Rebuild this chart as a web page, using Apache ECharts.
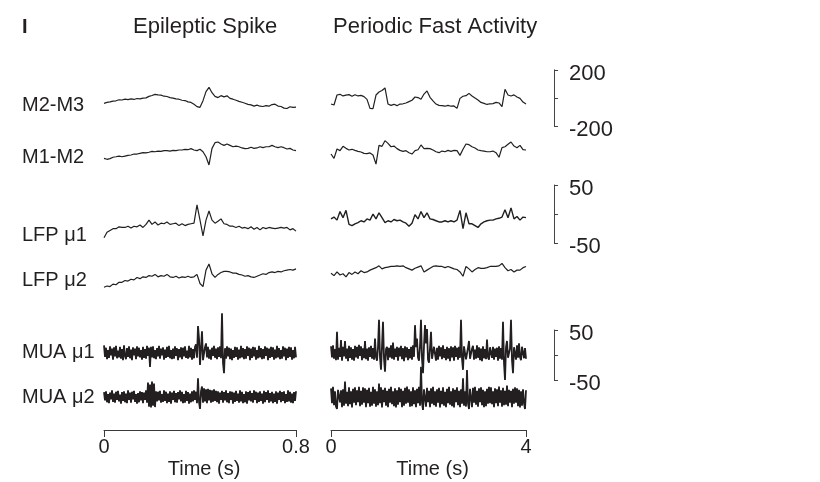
<!DOCTYPE html>
<html>
<head>
<meta charset="utf-8">
<script src="https://cdn.jsdelivr.net/npm/echarts@6/dist/echarts.min.js"></script>
<style>
  html, body { margin: 0; padding: 0; background: #ffffff; }
  #chart { width: 820px; height: 482px; }
</style>
</head>
<body>
<div id="chart"></div>
<script>
// window lengths (s) and tick labels of the two time axes
var spikeSpan = 0.8;
var fastSpan = 4;
var spikeTicks = [0, 0.8];
var fastTicks = [0, 4];

var rowNames = ['M2-M3', 'M1-M2', 'LFP μ1', 'LFP μ2', 'MUA μ1', 'MUA μ2'];

// scale bar tick labels
var eegScale = [-200, 0, 200];
var lfpScale = [-50, 0, 50];
var muaScale = [-50, 0, 50];

// --- Epileptic spike window (0 - 0.8 s), evenly sampled ---
var spikeM2M3 = [-25, -18, -14, -8, -6, 2, 0, 6, 3, 8,
  4, 11, 8, 14, 16, 27, 33, 42, 38, 36,
  28, 26, 18, 14, 8, 6, -2, -4, -14, -18,
  -32, -49, -54, -5, 62, 94, 54, 27, 18, 32,
  23, 31, 12, 6, -2, -10, -17, -24, -32, -36,
  -45, -38, -46, -48, -42, -46, -34, -31, -45, -48,
  -60, -63, -50, -55, -53];
var spikeM1M2 = [-47, -54, -49, -39, -35, -30, -35, -30, -25, -22,
  -15, -15, -10, -5, -7, -2, 5, 2, 7, 5,
  10, 10, 7, 12, 10, 15, 15, 20, 17, 25,
  15, 10, 20, 2, -35, -96, 27, 69, 74, 59,
  49, 59, 49, 39, 44, 39, 30, 25, 27, 35,
  27, 30, 39, 32, 39, 39, 49, 39, 32, 39,
  32, 22, 27, 15, 10];
var spikeLfp1 = [-21, -12, -9, -6, -6, -3, -4, -4, -2, -5,
  -2, -3, 0, -4, 1, 8, 1, 5, 0, 3,
  2, 5, 1, 2, 3, -1, 2, -1, 1, 2,
  3, 33, 8, -18, 8, 23, 8, 3, 6, 10,
  2, 1, -2, -2, -4, -2, -5, -4, -6, -3,
  -7, -4, -8, -4, -6, -4, -5, -6, -5, -4,
  -5, -4, -8, -6, -10];
var spikeLfp2 = [-20, -18, -19, -15, -16, -12, -12, -9, -10, -7,
  -8, -4, -6, -3, -4, -1, -2, 1, -3, -1,
  -2, 1, -3, -4, -2, -5, -3, -4, -2, -4,
  -3, 1, -14, -19, 8, 18, 2, -4, 1, 4,
  6, 6, 5, 3, 3, 1, 0, -2, -1, -3,
  -4, -2, 0, 2, 1, 4, 5, 4, 6, 5,
  7, 8, 9, 8, 10];
var spikeMua1 = [16, -8, 11, -13, 6, -10, 14, -5, 9, -14, 12, -7, 15, -11, 5, -9, 13, -12, 8, -15,
  16, -6, -13, 10, -8, 14, -11, 7, -15, 12, -5, 9, -13, 14, -7, 11, -9, 6, -14, 13,
  -10, 8, -12, 15, -6, 11, -29, 13, -9, 14, -11, 6, -13, 10, -7, 15, -12, 9, -5, 12,
  -14, 7, -10, 13, -8, 15, -11, 6, -13, 9, -12, 14, -6, 10, -15, 8, -9, 12, -13, 11,
  -7, 14, -10, 5, -12, 15, -9, 11, -14, 8, -11, 13, 18, -10, 56, 30, -25, 10, 45, -15,
  -15, 12, 20, -9, 13, -12, 7, -14, 11, -6, 15, -10, 9, -13, 12, -8, 14, -11, 83, -20,
  -42, 10, -12, 14, -7, 11, -13, 9, -15, 6, -10, 13, -8, 12, -14, 7, -11, 15, -9, 10,
  -13, 8, -12, 14, -6, 11, -15, 9, -10, 13, -7, 12, -14, 6, -11, 15, -9, 10, -13, 8,
  -12, 14, -6, 11, -15, 9, -10, 13, -8, 12, -14, 7, -11, 15, -9, 10, -13, 6, -12, 14,
  -7, 11, -15, 9, -10, 13, -8, 12, -14, 6, -11, 13, -9];
var spikeMua2 = [10, -7, 12, -11, 6, -13, 9, -5, 14, -10, 7, -12, 11, -6, 13, -9, 5, -14, 10, -8,
  12, -11, 7, -13, 14, -6, 9, -12, 11, -5, 13, -10, 6, -14, 8, -11, 12, -7, 10, -13,
  9, -6, 14, -12, 30, -20, 26, -22, 32, -18, 28, -21, 12, -9, 11, -7, 13, -12, 6, -10,
  14, -8, 11, -13, 7, -10, 12, -14, 9, -6, 13, -11, 8, -12, 10, -5, 14, -9, 11, -13,
  6, -12, 13, -8, 10, -14, 7, -11, 12, -9, 14, -6, 11, -13, 39, -10, -25, 12, 22, -12,
  18, -9, 16, -13, 17, -7, 15, -12, 14, -10, 16, -8, 13, -11, 12, -14, 9, -6, 13, -12,
  10, -7, 14, -11, 8, -13, 12, -6, 11, -14, 9, -10, 13, -8, 7, -12, 14, -9, 11, -13,
  6, -11, 12, -14, 10, -7, 13, -9, 8, -12, 14, -6, 11, -13, 9, -10, 12, -8, 7, -14,
  13, -11, 10, -6, 14, -12, 8, -9, 11, -13, 7, -10, 12, -14, 9, -6, 13, -11, 10, -8,
  12, -13, 6, -10, 14, -9, 11, -12, 7, -13, 10, -8, 12];

// --- Periodic fast activity window (0 - 4 s), evenly sampled ---
var fastM2M3 = [-30, -37, 37, 42, 30, 36, 40, 28, 39, 30,
  34, 25, 5, -62, -64, 37, 59, 70, 89, -30,
  -40, -32, -42, -30, -28, -22, -12, -2, 22, 18,
  5, 44, 67, 20, -7, -30, -40, -42, -46, -40,
  -46, -44, -62, 12, 28, 32, 49, 30, 15, 0,
  -18, -25, -33, -28, -27, -18, -22, -49, 79, 37,
  30, 38, 22, 12, -15, -30];
var fastM1M2 = [-15, -47, 22, 10, 42, 27, 15, 20, 12, 5,
  0, -10, -12, -7, -22, -90, 49, 42, 84, 64,
  39, 44, 25, 12, 5, 10, -5, -15, 10, 17,
  52, 25, 27, 25, 15, 2, -5, 7, 2, 12,
  5, 12, 10, -25, 20, 59, 54, 39, 30, 15,
  10, 7, 2, 2, 7, -5, -39, 32, 39, 57,
  74, 44, 32, 49, 17, 15];
var fastLfp1 = [10, 13, 8, 22, 12, 24, 1, -1, 2, 4,
  7, 5, 10, 8, 18, 10, 20, 12, 4, 7,
  5, 9, 7, 8, 5, 3, -2, 3, 17, 10,
  22, 12, 20, 10, 9, 7, 5, 5, 7, 5,
  7, 5, 8, 24, -6, 20, 2, 2, -1, -4,
  2, 5, 7, 8, 8, 10, 11, 13, 25, 12,
  28, 10, 14, 8, 13, 12];
var fastLfp2 = [3, -1, 5, 0, 2, -3, 4, 1, 5, 2,
  7, 4, 5, 8, 10, 12, 15, 10, 12, 13,
  14, 14, 15, 14, 15, 12, 10, 8, 11, 13,
  15, 5, 8, 11, 14, 15, 14, 14, 12, 14,
  12, 10, 9, 5, -2, 14, 10, 5, 9, 12,
  11, 11, 12, 14, 14, 14, 15, 19, 12, 7,
  9, 5, 8, 8, 12, 14];
var fastMua1 = [14, -9, 16, -12, 8, -15, 44, -14, 11, -8, 27, -16, 13, -7, 25, -12, 9, -17, 15, -10,
  12, -14, 8, -16, 15, -9, 13, -12, 17, -6, 14, -15, 10, -11, 25, -13, 9, -16, 12, -8,
  15, -12, 10, -14, 30, -9, -16, 12, 69, -10, -35, 14, 65, -12, -39, 8, 13, -15, 11, -9,
  16, -12, 22, -14, 9, -8, 13, -16, 11, -7, 15, -13, 10, -17, 14, -9, 12, -15, 8, -11,
  13, -14, 16, -8, 58, 12, 30, -10, -16, 14, 69, -12, -42, 15, 58, 20, 50, -14, -20, 10,
  44, -12, -15, 13, 9, -16, 11, -14, 15, -7, 12, -13, 16, -10, 8, -15, 13, -12, 10, -17,
  14, -9, 12, -16, 15, -8, 11, -14, 13, -10, 69, -12, -35, 14, 10, -13, -16, 11, 25, -12,
  -13, 9, 15, -14, 7, -12, 16, -10, 12, -15, 9, -17, 14, -11, 8, -13, 28, -9, -14, 12,
  15, -10, 13, -14, 9, -8, 11, -16, 14, -12, 10, -14, 65, -20, -56, 12, 25, -10, -13, 9,
  69, -15, -42, 12, 11, -14, 16, -10, 20, -9, -15, 13, 15, -11, 10, -12];
var fastMua2 = [18, -13, 21, -17, 12, -20, -25, 15, 19, -11, 14, -21, 16, -18, 32, -14, 11, -19, 20, -15,
  12, -22, 17, -12, 20, -17, 14, -11, 21, -19, 13, -16, 20, -12, 18, -21, 15, -13, 19, -20,
  11, -18, 21, -14, 16, -20, 12, -17, 28, -13, 20, -22, 15, -11, 19, -18, 13, -21, 17, -12,
  21, -15, 12, -19, 18, -22, 14, -16, 20, -11, 17, -21, 13, -18, 19, -14, 22, -12, 16, -20,
  12, -19, 20, -15, 14, -21, 17, -13, 21, -18, 63, -12, -27, 16, 15, -20, 19, -11, 13, -21,
  18, -14, 21, -17, 12, -20, 16, -12, 19, -22, 13, -15, 20, -18, 11, -21, 17, -13, 21, -16,
  12, -19, 18, -22, 15, -11, 20, -17, 13, -21, 16, -14, 39, -18, 12, -20, 56, -13, -25, 17,
  14, -21, 19, -12, 21, -16, 13, -20, 18, -11, 20, -17, 15, -21, 12, -19, 17, -14, 21, -13,
  20, -15, 12, -21, 18, -13, 16, -19, 22, -12, 14, -20, 19, -17, 13, -16, 24, -19, 15, -12,
  13, -21, 17, -14, 20, -12, 18, -19, 15, -22, 12, -18, 16, -13, -25, 14];

(function() {
  var ink = '#231f20';
  var font = "'Liberation Sans', Arial, Helvetica, sans-serif";

  // row layout: centre (px), half range (units), px per unit
  var rows = [
    { c: 100, r: 300, s: 0.135 },
    { c: 152, r: 300, s: 0.135 },
    { c: 225, r: 60, s: 0.61 },
    { c: 275, r: 60, s: 0.61 },
    { c: 353, r: 100, s: 0.48 },
    { c: 397, r: 100, s: 0.48 }
  ];
  var labelY = [105, 157, 235, 280, 352, 397];

  var panels = [
    { left: 104, width: 192, span: spikeSpan, ticks: spikeTicks,
      traces: [spikeM2M3, spikeM1M2, spikeLfp1, spikeLfp2, spikeMua1, spikeMua2] },
    { left: 331, width: 195, span: fastSpan, ticks: fastTicks,
      traces: [fastM2M3, fastM1M2, fastLfp1, fastLfp2, fastMua1, fastMua2] }
  ];

  var scaleBars = [
    { c: 98, s: 0.141, ticks: eegScale },
    { c: 214, s: 0.58, ticks: lfpScale },
    { c: 355, s: 0.5, ticks: muaScale }
  ];

  var grids = [], xAxes = [], yAxes = [], series = [];

  function addGrid(g, x, y) {
    g.outerBoundsMode = 'none';
    grids.push(g);
    var idx = grids.length - 1;
    x.gridIndex = idx;
    y.gridIndex = idx;
    xAxes.push(x);
    yAxes.push(y);
    return idx;
  }

  panels.forEach(function(p, pi) {
    rows.forEach(function(row, k) {
      var h = 2 * row.r * row.s;
      var idx = addGrid(
        { left: p.left, width: p.width, top: row.c - h / 2, height: h },
        { type: 'value', min: 0, max: p.span, show: false },
        { type: 'value', min: -row.r, max: row.r, show: false }
      );
      var vals = p.traces[k];
      var w = k >= 4 ? 1.8 : (pi === 1 && k === 2 ? 1.4 : 1.2);
      series.push({
        type: 'line',
        xAxisIndex: idx,
        yAxisIndex: idx,
        showSymbol: false,
        silent: true,
        clip: false,
        sampling: null,
        lineStyle: { color: ink, width: w },
        data: vals.map(function(v, i) { return [i * p.span / (vals.length - 1), v]; })
      });
    });

    // time axis under each panel
    addGrid(
      { left: p.left, width: p.width, top: 429, height: 1 },
      {
        type: 'value', position: 'bottom',
        min: p.ticks[0], max: p.ticks[p.ticks.length - 1],
        interval: p.ticks[1] - p.ticks[0],
        name: 'Time (s)', nameLocation: 'middle', nameGap: 29,
        nameTextStyle: { color: ink, fontSize: 20, fontFamily: font, padding: [0, 0, 0, 8] },
        axisLine: { show: true, lineStyle: { color: '#3a3a3a', width: 1 } },
        axisTick: { show: true, length: 7, lineStyle: { color: '#3a3a3a', width: 1 } },
        axisLabel: { color: ink, fontSize: 20, fontFamily: font, margin: 7, showMinLabel: true, showMaxLabel: true },
        splitLine: { show: false }
      },
      { type: 'value', min: 0, max: 1, show: false }
    );
  });

  scaleBars.forEach(function(b) {
    var lo = b.ticks[0], hi = b.ticks[b.ticks.length - 1];
    var h = (hi - lo) * b.s;
    addGrid(
      { left: 554, width: 1, top: b.c - h / 2, height: h },
      { type: 'value', min: 0, max: 1, show: false },
      {
        type: 'value', position: 'right',
        min: lo, max: hi, interval: b.ticks[1] - b.ticks[0],
        axisLine: { show: true, lineStyle: { color: '#444444', width: 1 } },
        axisTick: { show: true, length: 4, lineStyle: { color: '#444444', width: 1 } },
        axisLabel: {
          color: ink, fontSize: 22, fontFamily: font, margin: 14,
          verticalAlign: 'top', lineHeight: 8,
          formatter: function(v) { return v === 0 ? '' : String(v); }
        },
        splitLine: { show: false }
      }
    );
  });

  var texts = [
    { type: 'text', x: 22, y: 27, style: { text: 'I', fontSize: 20, fontWeight: 'bold', fontFamily: font, fill: ink, verticalAlign: 'middle' } },
    { type: 'text', x: 133, y: 27, style: { text: 'Epileptic Spike', fontSize: 22, fontFamily: font, fill: ink, verticalAlign: 'middle' } },
    { type: 'text', x: 333, y: 27, style: { text: 'Periodic Fast Activity', fontSize: 22, fontFamily: font, fill: ink, verticalAlign: 'middle' } }
  ];
  rowNames.forEach(function(name, k) {
    texts.push({ type: 'text', x: 22, y: labelY[k],
      style: { text: name, fontSize: 20, fontFamily: font, fill: ink, verticalAlign: 'middle' } });
  });

  var chart = echarts.init(document.getElementById('chart'), null, { renderer: 'canvas' });
  chart.setOption({
    animation: false,
    backgroundColor: '#ffffff',
    grid: grids,
    xAxis: xAxes,
    yAxis: yAxes,
    series: series,
    graphic: { elements: texts }
  });
  window.addEventListener('resize', function() { chart.resize(); });
})();
</script>
</body>
</html>
